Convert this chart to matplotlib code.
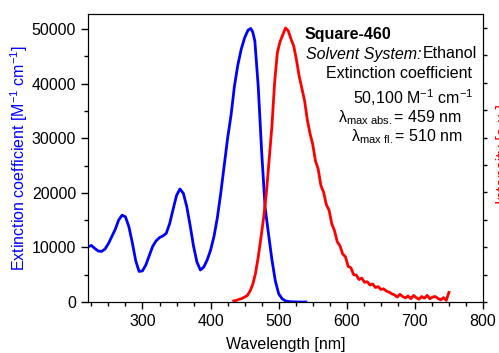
import matplotlib
matplotlib.use('Agg')
import matplotlib.pyplot as plt
from matplotlib.ticker import MultipleLocator

plt.rcParams['font.family'] = ['Liberation Sans', 'DejaVu Sans']
plt.rcParams['mathtext.fontset'] = 'custom'
plt.rcParams['mathtext.rm'] = 'Liberation Sans'
plt.rcParams['mathtext.it'] = 'Liberation Sans:italic'
plt.rcParams['mathtext.bf'] = 'Liberation Sans:bold'

# absorption (extinction coefficient, M^-1 cm^-1)
abs_wl = [220, 225, 230, 235, 240, 245, 250, 255, 260, 265, 270, 275, 280, 285,
          290, 295, 300, 305, 310, 315, 320, 325, 330, 335, 340, 345, 350, 355,
          360, 365, 370, 375, 380, 385, 390, 395, 400, 405, 410, 415, 420, 425,
          430, 435, 440, 445, 450, 455, 459, 462, 465, 470, 475, 480, 485, 490,
          495, 500, 505, 510, 515, 520, 530, 540]
abs_eps = [10130, 10350, 9800, 9350, 9250, 9700, 10700, 12000, 13300, 15000,
           15900, 15600, 13800, 10900, 7600, 5600, 5700, 6800, 8500, 10200,
           11200, 11800, 12100, 12600, 14400, 17000, 19500, 20700, 19900, 17500,
           14000, 10200, 7300, 5860, 6400, 7700, 9500, 12000, 15500, 20000,
           25000, 30000, 34200, 39500, 43400, 46300, 48400, 49800, 50100, 49400,
           47800, 39400, 27500, 17400, 12500, 7800, 3900, 1500, 600, 200, 80, 30,
           0, 0]

# fluorescence (normalised), 434..750 nm every 4 nm
fl_wl = list(range(434, 751, 4))
fl_int = [0.004, 0.006, 0.010, 0.013, 0.018, 0.024, 0.040, 0.065, 0.105, 0.165,
          0.235, 0.310, 0.400, 0.520, 0.640, 0.800, 0.910, 0.950, 0.975, 1.000,
          0.990, 0.960, 0.935, 0.885, 0.825, 0.780, 0.735, 0.665, 0.615, 0.575,
          0.515, 0.485, 0.425, 0.400, 0.355, 0.335, 0.285, 0.260, 0.220, 0.205,
          0.175, 0.165, 0.130, 0.125, 0.100, 0.098, 0.082, 0.087, 0.072, 0.074,
          0.062, 0.066, 0.053, 0.056, 0.046, 0.048, 0.040, 0.036, 0.030, 0.026,
          0.018, 0.028, 0.020, 0.015, 0.022, 0.012, 0.024, 0.016, 0.010, 0.020,
          0.014, 0.024, 0.012, 0.018, 0.020, 0.013, 0.008, 0.016, 0.006, 0.035]

fig = plt.figure(figsize=(4.99, 3.53), dpi=100)
ax = fig.add_axes([88/499, 1-302/353, (483-88)/499, (302-14)/353])
ax.plot(abs_wl, abs_eps, color='blue', lw=2)
ax.set_xlim(220, 800)
ax.set_ylim(0, 52750)
ax.xaxis.set_major_locator(MultipleLocator(100))
ax.xaxis.set_minor_locator(MultipleLocator(25))
ax.yaxis.set_major_locator(MultipleLocator(10000))
ax.yaxis.set_minor_locator(MultipleLocator(5000))
ax.tick_params(which='both', direction='out', labelsize=11.5, width=1)
ax.tick_params(which='major', length=5)
ax.tick_params(which='minor', length=3)
ax.tick_params(axis='y', which='both', right=False)
ax.set_xlabel('Wavelength [nm]', fontsize=11.5, labelpad=6)
ax.set_ylabel('Extinction coefficient [M$^{-1}$ cm$^{-1}$]', color='blue',
              fontsize=11.5, labelpad=1)

ax2 = ax.twinx()
ax2.plot(fl_wl, fl_int, color='red', lw=2)
ax2.set_ylim(0, 1.051)
ax2.yaxis.set_major_locator(MultipleLocator(0.1))
ax2.tick_params(axis='y', direction='out', length=3, width=1, labelright=False)

# right axis label, mostly outside the canvas as in the original
fig.text(496/499, 1-154/353, 'Intensity [a.u.]', color='red', fontsize=11.5,
         rotation=90, ha='left', va='center')

def fy(y):
    return 1 - y/353

fs = 11.5
fig.text(305/499, fy(35), 'Square-460', fontsize=fs, weight='bold', va='center')
fig.text(306/499, fy(54), 'Solvent System:', fontsize=fs, style='italic', va='center')
fig.text(477/499, fy(54), 'Ethanol', fontsize=fs, ha='right', va='center')
fig.text(472/499, fy(73), 'Extinction coefficient', fontsize=fs, ha='right', va='center')
fig.text(473/499, fy(98), '50,100 M$^{-1}$ cm$^{-1}$', fontsize=fs, ha='right', va='center')
fig.text(462/499, fy(118), 'λ$_{\\mathrm{max\\ abs.}}$= 459 nm', fontsize=fs,
         ha='right', va='center')
fig.text(463/499, fy(137), 'λ$_{\\mathrm{max\\ fl.}}$= 510 nm', fontsize=fs,
         ha='right', va='center')

fig.savefig('out.png', dpi=100)
